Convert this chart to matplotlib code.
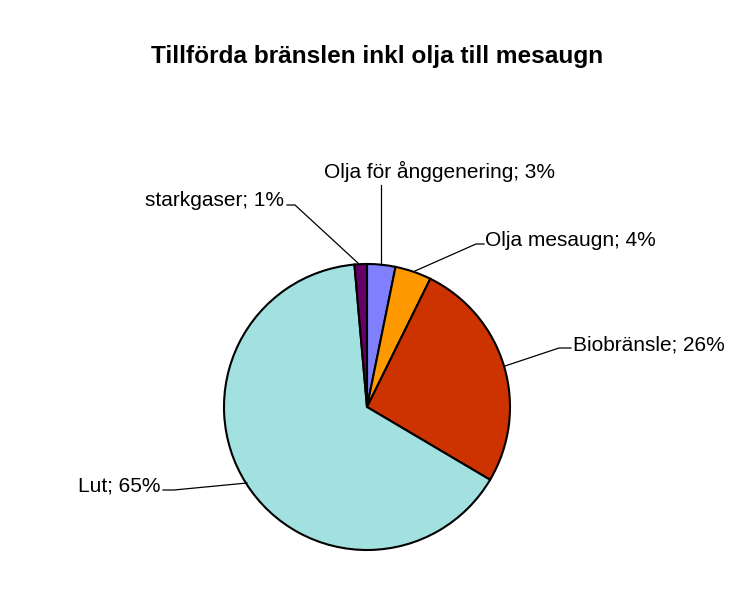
import matplotlib
matplotlib.use("Agg")
import matplotlib.pyplot as plt

plt.rcParams['font.family'] = ['Liberation Sans', 'DejaVu Sans']

labels = ["Olja för ånggenering", "Olja mesaugn", "Biobränsle", "Lut", "starkgaser"]
values = [3.2, 4.1, 26.2, 65.1, 1.4]
colors = ["#8080FF", "#FF9900", "#CC3300", "#A3E0E0", "#660066"]
pct_labels = ["3%", "4%", "26%", "65%", "1%"]

W, H = 743, 596
fig = plt.figure(figsize=(W / 100, H / 100), dpi=100)
ax = fig.add_axes([0, 0, 1, 1])

cx, cy, r = 367, H - 407, 143
wedges, _ = ax.pie(values, colors=colors, startangle=90, counterclock=False,
                   center=(cx, cy), radius=r, frame=True,
                   wedgeprops=dict(edgecolor='black', linewidth=1.5))
ax.set_xlim(0, W)
ax.set_ylim(0, H)
ax.set_aspect('auto')
ax.axis('off')

fig.text(377 / W, 1 - 57 / H, "Tillförda bränslen inkl olja till mesaugn",
         ha='center', va='center', fontsize=17.6, fontweight='bold')

# label text positions (pixel coords from top), alignment, leader line points
label_specs = [
    dict(tx=440, ty=171, ha='center', pts=[(381, 185), (381, 265)]),
    dict(tx=485, ty=241, ha='left', pts=[(484, 244), (476, 244), (415, 271)]),
    dict(tx=573, ty=345, ha='left', pts=[(571, 348), (559, 348), (505, 366)]),
    dict(tx=160, ty=486, ha='right', pts=[(163, 490), (174, 490), (247, 483)]),
    dict(tx=284, ty=201, ha='right', pts=[(287, 205), (295, 205), (359, 264)]),
]

for lab, pct, spec in zip(labels, pct_labels, label_specs):
    ax.text(spec['tx'], H - spec['ty'], f"{lab}; {pct}", ha=spec['ha'], va='center',
            fontsize=15)
    xs = [p[0] for p in spec['pts']]
    ys = [H - p[1] for p in spec['pts']]
    ax.plot(xs, ys, color='black', linewidth=0.9)

fig.savefig("out.png", dpi=100)
